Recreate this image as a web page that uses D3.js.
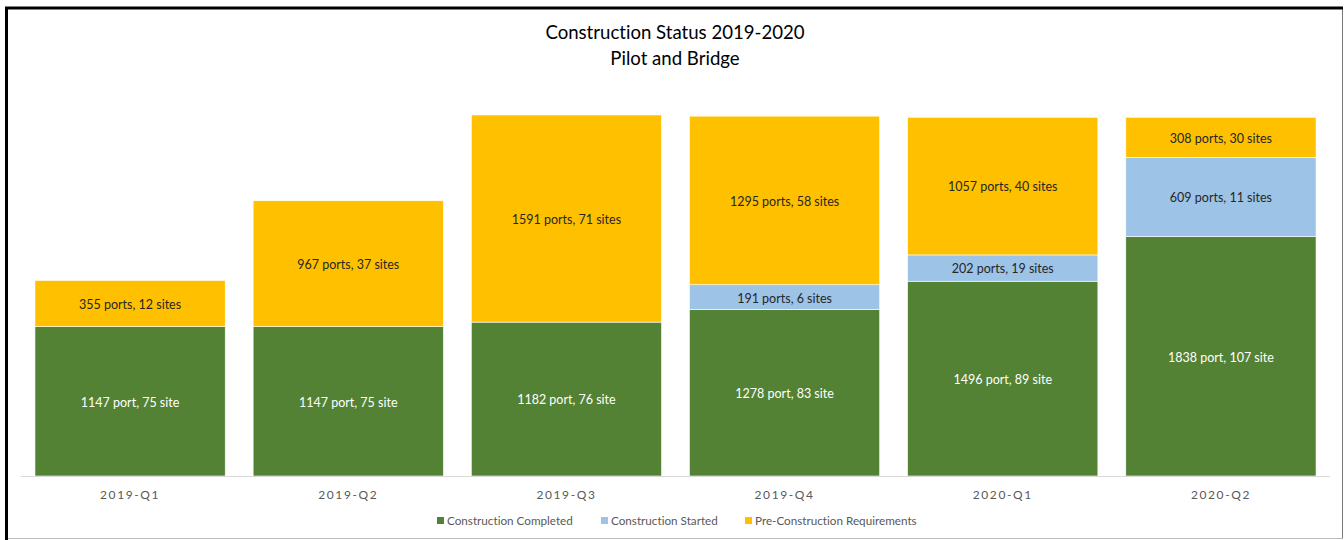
<!DOCTYPE html>
<html>
<head>
<meta charset="utf-8">
<script src="https://cdn.jsdelivr.net/npm/d3@7"></script>
<style>
  html, body { margin: 0; padding: 0; background: #fff; }
  svg { display: block; }
  text { font-variant-ligatures: none; font-feature-settings: "liga" 0; }
</style>
</head>
<body>
<svg id="chart" width="1344" height="540"></svg>
<script>
// Chart data
const quarters = ['2019-Q1', '2019-Q2', '2019-Q3', '2019-Q4', '2020-Q1', '2020-Q2'];
const completedPorts = [1147, 1147, 1182, 1278, 1496, 1838];
const completedSites = [75, 75, 76, 83, 89, 107];
const startedPorts = [0, 0, 0, 191, 202, 609];
const startedSites = [0, 0, 0, 6, 19, 11];
const prePorts = [355, 967, 1591, 1295, 1057, 308];
const preSites = [12, 37, 71, 58, 40, 30];
const seriesNames = ['Construction Completed', 'Construction Started', 'Pre-Construction Requirements'];
const seriesColors = ['#548235', '#9dc3e6', '#ffc000'];

const svg = d3.select('#chart');
const font = "Lato, 'Open Sans', sans-serif";

// Frame
svg.append('rect').attr('x', 0).attr('y', 0).attr('width', 1344).attr('height', 540).attr('fill', '#fff');
svg.append('line').attr('x1', 1342.5).attr('y1', 9).attr('x2', 1342.5).attr('y2', 538).attr('stroke', '#777').attr('stroke-width', 1);
svg.append('line').attr('x1', 6).attr('y1', 538.5).attr('x2', 1343).attr('y2', 538.5).attr('stroke', '#bbb').attr('stroke-width', 1);
svg.append('line').attr('x1', 5).attr('y1', 8).attr('x2', 1343).attr('y2', 8).attr('stroke', '#000').attr('stroke-width', 3);
svg.append('line').attr('x1', 6.5).attr('y1', 7).attr('x2', 6.5).attr('y2', 540).attr('stroke', '#000').attr('stroke-width', 3);

// Title
svg.append('text')
    .attr('x', 675).attr('y', 39)
    .attr('text-anchor', 'middle')
    .attr('fill', '#000')
    .style('font-family', font)
    .style('font-size', '18.6px')
    .text('Construction Status 2019-2020');
svg.append('text')
    .attr('x', 675).attr('y', 65)
    .attr('text-anchor', 'middle')
    .attr('fill', '#000')
    .style('font-family', font)
    .style('font-size', '18.6px')
    .text('Pilot and Bridge');

// Scales
const x = d3.scaleBand().domain(quarters).range([21, 1330]).paddingInner(0.128).paddingOuter(0.064);
const y = d3.scaleLinear().domain([0, 3000]).range([476, 85.4]);

const rows = quarters.map((q, i) => ({
    quarter: q,
    completed: completedPorts[i],
    started: startedPorts[i],
    pre: prePorts[i],
    labels: [
        `${completedPorts[i]} port, ${completedSites[i]} site`,
        `${startedPorts[i]} ports, ${startedSites[i]} sites`,
        `${prePorts[i]} ports, ${preSites[i]} sites`
    ]
}));

const keys = ['completed', 'started', 'pre'];
const stacked = d3.stack().keys(keys)(rows);

// Bars
const layers = svg.append('g').selectAll('g')
    .data(stacked)
    .join('g')
    .attr('fill', (d, i) => seriesColors[i]);

layers.selectAll('rect')
    .data(d => d.filter(s => s[1] > s[0]))
    .join('rect')
    .attr('x', d => x(d.data.quarter))
    .attr('y', d => y(d[1]))
    .attr('width', x.bandwidth())
    .attr('height', d => y(d[0]) - y(d[1]))
    .attr('stroke', '#fff')
    .attr('stroke-width', 0.6);

// Segment labels
stacked.forEach((layer, li) => {
    svg.append('g').selectAll('text')
        .data(layer.filter(s => s[1] > s[0]))
        .join('text')
        .attr('x', d => x(d.data.quarter) + x.bandwidth() / 2)
        .attr('y', d => (y(d[0]) + y(d[1])) / 2 + 1)
        .attr('dy', '0.35em')
        .attr('text-anchor', 'middle')
        .attr('fill', li === 0 ? '#fff' : '#262626')
        .style('font-family', font)
        .style('font-size', '12.5px')
        .text(d => d.data.labels[li]);
});

// X axis
const xAxis = svg.append('g')
    .attr('transform', `translate(0,${y(0)})`)
    .call(d3.axisBottom(x).tickSize(0).tickPadding(14));
xAxis.select('.domain').attr('stroke', '#d9d9d9').attr('d', 'M21,0.5H1330');
xAxis.selectAll('text')
    .attr('fill', '#595959')
    .style('font-family', font)
    .style('font-size', '12px')
    .style('letter-spacing', '1.6px');

// Legend
const legendX = [437, 601, 745];
const legend = svg.append('g').selectAll('g')
    .data(seriesNames)
    .join('g')
    .attr('transform', (d, i) => `translate(${legendX[i]},521)`);
legend.append('rect')
    .attr('x', 0).attr('y', -4)
    .attr('width', 7).attr('height', 7)
    .attr('fill', (d, i) => seriesColors[i]);
legend.append('text')
    .attr('x', 10).attr('y', 0)
    .attr('dy', '0.35em')
    .attr('fill', '#595959')
    .style('font-family', font)
    .style('font-size', '11.7px')
    .text(d => d);
</script>
</body>
</html>
